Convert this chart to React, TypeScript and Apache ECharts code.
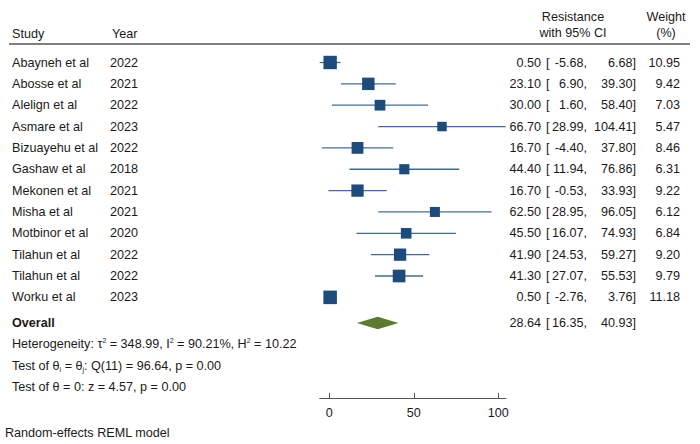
import React, { useEffect, useRef } from "react";
import * as echarts from "echarts";

const studies = [
  "Abayneh et al", "Abosse et al", "Alelign et al", "Asmare et al", "Bizuayehu et al", "Gashaw et al",
  "Mekonen et al", "Misha et al", "Motbinor et al", "Tilahun et al", "Tilahun et al", "Worku et al",
];
const years = [2022, 2021, 2022, 2023, 2022, 2018, 2021, 2021, 2020, 2022, 2022, 2023];
const estimates = [0.5, 23.1, 30.0, 66.7, 16.7, 44.4, 16.7, 62.5, 45.5, 41.9, 41.3, 0.5];
const lowers = [-5.68, 6.9, 1.6, 28.99, -4.4, 11.94, -0.53, 28.95, 16.07, 24.53, 27.07, -2.76];
const uppers = [6.68, 39.3, 58.4, 104.41, 37.8, 76.86, 33.93, 96.05, 74.93, 59.27, 55.53, 3.76];
const weights = [10.95, 9.42, 7.03, 5.47, 8.46, 6.31, 9.22, 6.12, 6.84, 9.2, 9.79, 11.18];
const overall = { est: 28.64, lo: 16.35, hi: 40.93 };
const xTicks = [0, 50, 100];

const FONT = "'Liberation Sans', Arial, Helvetica, sans-serif";
const TXT = "#1a1a1a";
const FS = 12.6;

export default function App() {
  const ref = useRef<HTMLDivElement>(null);
  useEffect(() => {
    document.body.style.margin = "0";
    const chart = echarts.init(ref.current!, null, { renderer: "svg" });
    const n = studies.length;
    const overallRow = n + 0.2;
    const xmin = Math.min(...lowers);
    const xmax = Math.max(...uppers);
    const studyData = studies.map((_, i) => [i, estimates[i], lowers[i], uppers[i], weights[i]]);

    chart.setOption({
      animation: false,
      grid: { left: 319.7, right: 194.3, top: 62.5, bottom: 46 },
      xAxis: {
        type: "value",
        min: xmin,
        max: xmax,
        position: "bottom",
        splitLine: { show: false },
        axisLine: { show: true, onZero: false, lineStyle: { color: "#555", width: 1.2 } },
        axisTick: { show: true, inside: true, length: 5, customValues: xTicks, lineStyle: { color: "#555" } },
        axisLabel: { customValues: xTicks, color: TXT, fontFamily: FONT, fontSize: FS, margin: 8 },
      },
      yAxis: {
        type: "value",
        inverse: true,
        min: 0,
        max: (398 - 62.5) / 21.35,
        show: false,
        splitLine: { show: false },
      },
      series: [
        {
          type: "custom",
          clip: false,
          data: studyData,
          encode: { x: [1, 2, 3], y: 0 },
          renderItem: (params: any, api: any) => {
            const y = api.value(0);
            const p = api.coord([api.value(1), y]);
            const l = api.coord([api.value(2), y]);
            const h = api.coord([api.value(3), y]);
            const s = 4.05 * Math.sqrt(api.value(4));
            return {
              type: "group",
              children: [
                {
                  type: "line",
                  shape: { x1: l[0], y1: l[1], x2: h[0], y2: h[1] },
                  style: { stroke: "#3f6c9c", lineWidth: 1.3 },
                },
                {
                  type: "rect",
                  shape: { x: p[0] - s / 2, y: p[1] - s / 2, width: s, height: s },
                  style: { fill: "#1d4b7b" },
                },
              ],
            };
          },
        },
        {
          type: "custom",
          clip: false,
          data: [[overallRow, overall.est, overall.lo, overall.hi]],
          encode: { x: [1, 2, 3], y: 0 },
          renderItem: (params: any, api: any) => {
            const y = api.value(0);
            const p = api.coord([api.value(1), y]);
            const l = api.coord([api.value(2), y]);
            const h = api.coord([api.value(3), y]);
            return {
              type: "polygon",
              shape: { points: [[l[0], l[1]], [p[0], p[1] - 6.3], [h[0], h[1]], [p[0], p[1] + 6.3]] },
              style: { fill: "#5b7b2e" },
            };
          },
        },
      ],
    });

    const rowY = (r: number) => chart.convertToPixel({ yAxisIndex: 0 }, r) as number;
    const t = (text: string, x: number, y: number, align = "left", extra: any = {}) => ({
      type: "text",
      x,
      y,
      style: {
        text,
        align,
        verticalAlign: "middle",
        fill: TXT,
        fontFamily: FONT,
        fontSize: FS,
        ...extra,
      },
    });

    const g: any[] = [
      t("Study", 12, 34),
      t("Year", 112, 34),
      t("Resistance", 573, 17, "center"),
      t("with 95% CI", 573, 33, "center"),
      t("Weight", 666, 17, "center"),
      t("(%)", 666, 33, "center"),
      {
        type: "line",
        shape: { x1: 9, y1: 44, x2: 690, y2: 44 },
        style: { stroke: "#555", lineWidth: 1.3 },
      },
    ];
    studies.forEach((s, i) => {
      const y = rowY(i);
      g.push(t(s, 12, y));
      g.push(t(String(years[i]), 110, y));
      g.push(t(estimates[i].toFixed(2), 541, y, "right"));
      g.push(t("[", 546, y));
      g.push(t(lowers[i].toFixed(2) + ",", 587, y, "right"));
      g.push(t(uppers[i].toFixed(2) + "]", 636, y, "right"));
      g.push(t(weights[i].toFixed(2), 680, y, "right"));
    });
    const oy = rowY(overallRow);
    g.push(t("Overall", 12, oy, "left", { fontWeight: "bold" }));
    g.push(t(overall.est.toFixed(2), 541, oy, "right"));
    g.push(t("[", 546, oy));
    g.push(t(overall.lo.toFixed(2) + ",", 587, oy, "right"));
    g.push(t(overall.hi.toFixed(2) + "]", 636, oy, "right"));

    const rich = {
      sup: { fontSize: 7, fontFamily: FONT, fill: TXT, verticalAlign: "top", lineHeight: 14 },
      sub: { fontSize: 7, fontFamily: FONT, fill: TXT, verticalAlign: "bottom", lineHeight: 14 },
      n: { fontSize: FS, fontFamily: FONT, fill: TXT, lineHeight: 14 },
    };
    g.push(
      t(
        "{n|Heterogeneity: τ}{sup|2}{n| = 348.99, I}{sup|2}{n| = 90.21%, H}{sup|2}{n| = 10.22}",
        12,
        rowY(overallRow + 1),
        "left",
        { rich }
      )
    );
    g.push(
      t("{n|Test of θ}{sub|i}{n| = θ}{sub|j}{n|: Q(11) = 96.64, p = 0.00}", 12, rowY(overallRow + 2), "left", { rich })
    );
    g.push(t("Test of θ = 0: z = 4.57, p = 0.00", 12, rowY(overallRow + 3)));
    g.push(t("Random-effects REML model", 5, 433));

    chart.setOption({ graphic: g });
    return () => chart.dispose();
  }, []);
  return <div ref={ref} style={{ width: 700, height: 444 }} />;
}
